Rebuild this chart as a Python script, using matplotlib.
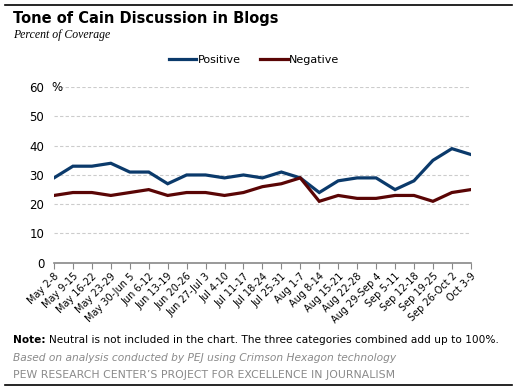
import matplotlib
matplotlib.use("Agg")
from matplotlib import pyplot as plt

weeks = ["May 2-8", "May 9-15", "May 16-22", "May 23-29", "May 30-Jun 5",
         "Jun 6-12", "Jun 13-19", "Jun 20-26", "Jun 27-Jul 3", "Jul 4-10",
         "Jul 11-17", "Jul 18-24", "Jul 25-31", "Aug 1-7", "Aug 8-14",
         "Aug 15-21", "Aug 22-28", "Aug 29-Sep 4", "Sep 5-11", "Sep 12-18",
         "Sep 19-25", "Sep 26-Oct 2", "Oct 3-9"]
positive = [29, 33, 33, 34, 31, 31, 27, 30, 30, 29, 30, 29, 31, 29, 24,
            28, 29, 29, 25, 28, 35, 39, 37]
negative = [23, 24, 24, 23, 24, 25, 23, 24, 24, 23, 24, 26, 27, 29, 21,
            23, 22, 22, 23, 23, 21, 24, 25]
yticks = [0, 10, 20, 30, 40, 50, 60]

plt.rcParams['font.family'] = ['DejaVu Sans']
fig = plt.figure(figsize=(5.14, 3.91), dpi=100)
ax = fig.add_axes([0.105, 0.328, 0.811, 0.449])

x = list(range(len(weeks)))
ax.plot(x, positive, color="#0b3a6b", lw=2.3, label="Positive", solid_joinstyle="miter")
ax.plot(x, negative, color="#5a0505", lw=2.3, label="Negative", solid_joinstyle="miter")

ax.set_xlim(0, len(weeks) - 1)
ax.set_ylim(0, 60)
ax.set_yticks(yticks)
ax.set_yticklabels([str(v) for v in yticks], fontsize=8.5)
ax.set_xticks(x)
ax.set_xticklabels(weeks, rotation=45, ha="right", rotation_mode="anchor", fontsize=7)
ax.tick_params(axis="y", length=0, pad=7)
ax.tick_params(axis="x", length=4, color="#888888", pad=2)
ax.yaxis.grid(True, linestyle=(0, (3, 2)), color="#cccccc", lw=0.8)
ax.set_axisbelow(True)
for s in ["top", "right", "left"]:
    ax.spines[s].set_visible(False)
ax.spines["bottom"].set_color("#888888")
ax.spines["bottom"].set_linewidth(1.2)
ax.text(-0.007, 60, "%", transform=ax.get_yaxis_transform(), fontsize=8.5,
        va="center", ha="left")

ax.legend(loc="lower center", bbox_to_anchor=(0.48, 1.07), ncol=2, frameon=False,
          fontsize=8, handlelength=2.5, handletextpad=0.1, columnspacing=1.8)

fig.add_artist(plt.Line2D([0.01, 0.996], [0.987, 0.987], color="black", lw=1.2))
fig.add_artist(plt.Line2D([0.01, 0.996], [0.015, 0.015], color="black", lw=1.2))
fig.text(0.025, 0.972, "Tone of Cain Discussion in Blogs", fontsize=10.5,
         fontweight="bold", va="top")
fig.text(0.025, 0.926, "Percent of Coverage", fontsize=8.5, style="italic",
         family="Liberation Serif", va="top")

fig.text(0.025, 0.13, "Note:", fontsize=7.6, fontweight="bold", va="center")
fig.text(0.096, 0.13, "Neutral is not included in the chart. The three categories combined add up to 100%.",
         fontsize=7.6, va="center")
fig.text(0.025, 0.085, "Based on analysis conducted by PEJ using Crimson Hexagon technology",
         fontsize=7.7, style="italic", color="#8a8a8a", va="center")
fig.text(0.025, 0.04, "PEW RESEARCH CENTER\u2019S PROJECT FOR EXCELLENCE IN JOURNALISM",
         fontsize=7.8, color="#8a8a8a", va="center")

fig.savefig("out.png", dpi=100)
